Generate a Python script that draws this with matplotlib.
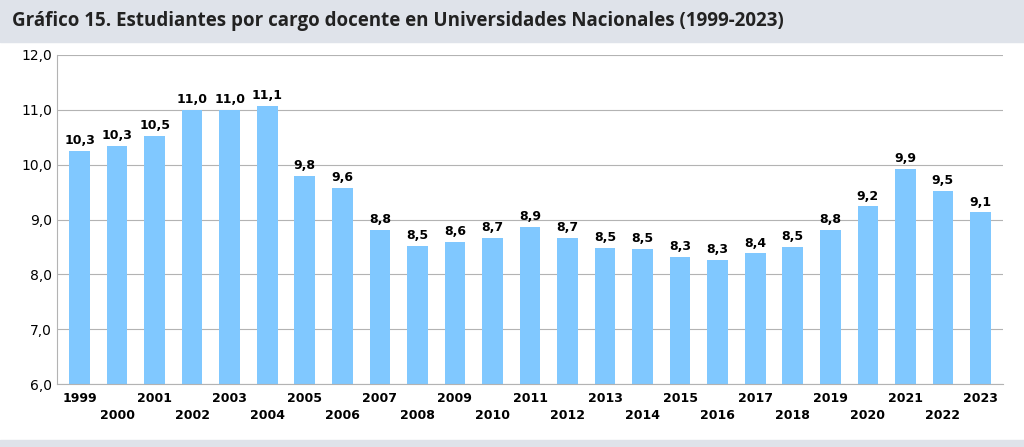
import matplotlib.pyplot as plt

years = [str(y) for y in range(1999, 2024)]
values = [10.25, 10.34, 10.53, 11.0, 11.0, 11.07, 9.80, 9.58, 8.81, 8.52, 8.59,
          8.66, 8.87, 8.66, 8.48, 8.46, 8.32, 8.26, 8.38, 8.50, 8.81, 9.24,
          9.92, 9.52, 9.13]
labels = ['10,3', '10,3', '10,5', '11,0', '11,0', '11,1', '9,8', '9,6', '8,8', '8,5', '8,6',
          '8,7', '8,9', '8,7', '8,5', '8,5', '8,3', '8,3', '8,4', '8,5', '8,8', '9,2',
          '9,9', '9,5', '9,1']

fig = plt.figure(figsize=(10.24, 4.47), dpi=100)
fig.patch.set_facecolor('white')
# bandas grises de arriba y abajo
fig.add_artist(plt.Rectangle((0, 1 - 42 / 447), 1, 42 / 447, color='#dfe3ea', transform=fig.transFigure))
fig.add_artist(plt.Rectangle((0, 0), 1, 7 / 447, color='#dfe3ea', transform=fig.transFigure))
fig.text(12 / 1024, 1 - 21 / 447, 'Gráfico 15. Estudiantes por cargo docente en Universidades Nacionales (1999-2023)',
         fontsize=13.5, fontweight='bold', va='center', family='Open Sans', color='#222222')

ax = fig.add_axes([57 / 1024, 1 - 384 / 447, 946 / 1024, 329 / 447])
x = range(len(years))
ax.bar(x, values, width=0.55, color='#80c8ff', zorder=2)
ax.set_ylim(6, 12)
ax.set_xlim(-0.6, len(years) - 0.4)
ax.set_yticks([6, 7, 8, 9, 10, 11, 12])
ax.set_yticklabels(['6,0', '7,0', '8,0', '9,0', '10,0', '11,0', '12,0'], fontsize=10)
ax.grid(axis='y', color='#b3b3b3', linewidth=0.8, zorder=0)
ax.set_xticks(list(x))
ax.set_xticklabels([])
ax.tick_params(axis='x', length=0)
ax.tick_params(axis='y', length=0)
for s in ['top', 'right']:
    ax.spines[s].set_visible(False)
ax.spines['left'].set_color('#b3b3b3')
ax.spines['bottom'].set_color('#b3b3b3')
for i, y in enumerate(years):
    off = 0.025 if i % 2 == 0 else 0.075
    ax.text(i, -off, y, transform=ax.get_xaxis_transform(), ha='center', va='top',
            fontsize=9, fontweight='bold')
for i, v in enumerate(values):
    ax.text(i, v + 0.07, labels[i], ha='center', va='bottom', fontsize=9, fontweight='bold')

fig.savefig('out.png', dpi=100)
